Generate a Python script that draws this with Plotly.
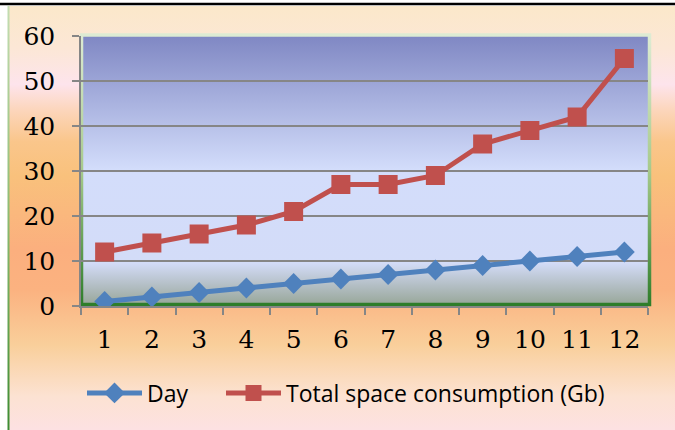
import base64
import plotly.graph_objects as go

# Data
days = [str(d) for d in range(1, 13)]
day_values = [1, 2, 3, 4, 5, 6, 7, 8, 9, 10, 11, 12]
total_space_gb = [12, 14, 16, 18, 21, 27, 27, 29, 36, 39, 42, 55]
y_ticks = [0, 10, 20, 30, 40, 50, 60]
grid_values = [10, 20, 30, 40, 50]

W, H = 675, 430
L, R, T, B = 81, 27, 36, 124
PW, PH = W - L - R, H - T - B

# Background artwork: chart-area gradient, green borders, plot-area gradient
bg_svg = f"""<svg xmlns='http://www.w3.org/2000/svg' width='{W}' height='{H}' viewBox='0 0 {W} {H}'>
<defs>
<linearGradient id='outer' x1='0' y1='0' x2='0' y2='1'>
<stop offset='0' stop-color='#FBE8CA'/>
<stop offset='0.10' stop-color='#FCE7D6'/>
<stop offset='0.185' stop-color='#FDE4EC'/>
<stop offset='0.245' stop-color='#FCD6BC'/>
<stop offset='0.32' stop-color='#FAC68B'/>
<stop offset='0.40' stop-color='#F9C17C'/>
<stop offset='0.575' stop-color='#FBAF7E'/>
<stop offset='0.67' stop-color='#FBB280'/>
<stop offset='0.80' stop-color='#F9CF9B'/>
<stop offset='0.92' stop-color='#FCE2D2'/>
<stop offset='1' stop-color='#FDE1E2'/>
</linearGradient>
<linearGradient id='edge' x1='0' y1='0' x2='0' y2='1'>
<stop offset='0' stop-color='#C4DDB2'/>
<stop offset='0.5' stop-color='#8DBB72'/>
<stop offset='1' stop-color='#3C8C32'/>
</linearGradient>
<linearGradient id='frame' x1='0' y1='0' x2='0' y2='1'>
<stop offset='0' stop-color='#DDEBD3'/>
<stop offset='0.5' stop-color='#A7CA8C'/>
<stop offset='1' stop-color='#2E7D2A'/>
</linearGradient>
<linearGradient id='plot' x1='0' y1='0' x2='0' y2='1'>
<stop offset='0' stop-color='#7F87C3'/>
<stop offset='0.5' stop-color='#D3DDFB'/>
<stop offset='0.845' stop-color='#D3DCF8'/>
<stop offset='0.93' stop-color='#B3BEC4'/>
<stop offset='1' stop-color='#98A799'/>
</linearGradient>
</defs>
<rect x='8' y='6' width='{W - 8}' height='{H - 6}' fill='url(#outer)'/>
<rect x='7.5' y='6' width='2' height='{H - 6}' fill='url(#edge)'/>
<rect x='81.5' y='35' width='568' height='269.5' fill='url(#plot)' stroke='url(#frame)' stroke-width='3.5'/>
</svg>"""
bg_uri = "data:image/svg+xml;base64," + base64.b64encode(bg_svg.encode()).decode()

BLUE = "#4F81BD"
RED = "#C0504D"
GRAY = "#868686"

def px_x(px):
    return (px - L) / PW

def px_y(py):
    return (H - B - py) / PH

fig = go.Figure()
fig.add_trace(go.Scatter(
    x=days, y=day_values, name="Day", mode="lines+markers",
    line=dict(color=BLUE, width=5),
    marker=dict(symbol="diamond", size=16, color=BLUE),
    legend="legend",
))
fig.add_trace(go.Scatter(
    x=days, y=total_space_gb, name="Total space consumption (Gb)",
    mode="lines+markers",
    line=dict(color=RED, width=5),
    marker=dict(symbol="square", size=19, color=RED),
    legend="legend2",
))
# Empty series that carries the overlay axis used for the interior gridlines
fig.add_trace(go.Scatter(x=[], y=[], yaxis="y2", showlegend=False,
                         hoverinfo="skip"))

fig.add_layout_image(dict(
    source=bg_uri, xref="paper", yref="paper",
    x=px_x(0), y=px_y(0), sizex=W / PW, sizey=H / PH,
    xanchor="left", yanchor="top", sizing="stretch", layer="below",
))

# Rule across the top of the page
fig.add_shape(type="line", xref="paper", yref="paper",
              x0=px_x(0), x1=px_x(W), y0=px_y(4), y1=px_y(4),
              line=dict(color="black", width=2.5))

tick_font = dict(family="DejaVu Serif", size=25, color="black")
fig.update_layout(
    xaxis=dict(
        type="category", tickson="boundaries", range=[-0.5, 11.5],
        showline=True, linecolor=GRAY, linewidth=1.5,
        ticks="outside", ticklen=7, tickwidth=1.5, tickcolor=GRAY,
        showgrid=False, zeroline=False, tickfont=tick_font,
        ticklabelstandoff=10,
    ),
    yaxis=dict(
        range=[0, 60], tickvals=y_ticks,
        showline=True, linecolor=GRAY, linewidth=1.5,
        ticks="outside", ticklen=7, tickwidth=1.5, tickcolor=GRAY,
        showgrid=False, zeroline=False, tickfont=tick_font,
        ticklabelstandoff=12,
    ),
    yaxis2=dict(
        overlaying="y", anchor="x", side="left",
        range=[0, 60], tickvals=grid_values,
        showgrid=True, gridcolor=GRAY, gridwidth=1.5,
        showticklabels=False, ticks="", showline=False, zeroline=False,
    ),
)

legend_font = dict(family="Open Sans", size=23, color="black")
common_legend = dict(
    orientation="h", yanchor="middle", y=px_y(393), xanchor="left",
    font=legend_font, bgcolor="rgba(0,0,0,0)", itemwidth=55,
    borderwidth=0,
)
fig.update_layout(
    width=W, height=H,
    margin=dict(l=L, r=R, t=T, b=B, pad=0),
    paper_bgcolor="white", plot_bgcolor="rgba(0,0,0,0)",
    showlegend=True,
    legend=dict(common_legend, x=px_x(82)),
    legend2=dict(common_legend, x=px_x(221)),
)

fig.write_html("out.html")
